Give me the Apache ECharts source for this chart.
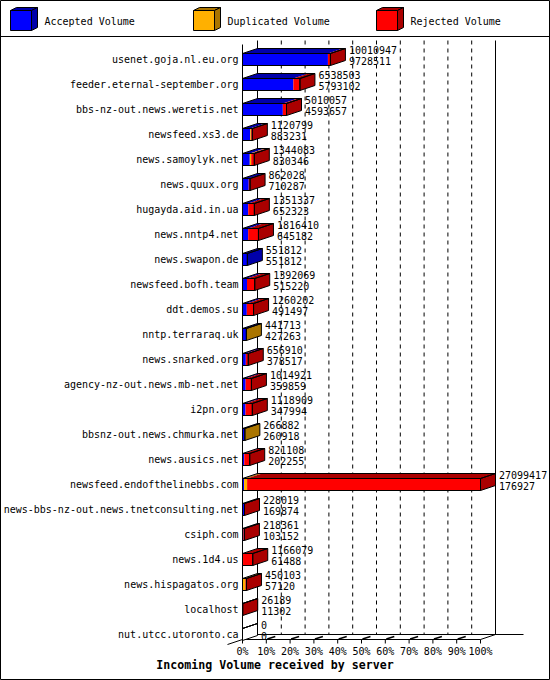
<!DOCTYPE html>
<html><head><meta charset="utf-8">
<script src="https://cdn.jsdelivr.net/npm/echarts@6/dist/echarts.min.js"></script>
<style>html,body{margin:0;padding:0;background:#fff}#c{width:550px;height:680px}</style>
</head><body><div id="c"></div>
<script>
const categories = [
  'usenet.goja.nl.eu.org','feeder.eternal-september.org','bbs-nz-out.news.weretis.net',
  'newsfeed.xs3.de','news.samoylyk.net','news.quux.org','hugayda.aid.in.ua','news.nntp4.net',
  'news.swapon.de','newsfeed.bofh.team','ddt.demos.su','nntp.terraraq.uk','news.snarked.org',
  'agency-nz-out.news.mb-net.net','i2pn.org','bbsnz-out.news.chmurka.net','news.ausics.net',
  'newsfeed.endofthelinebbs.com','news-bbs-nz-out.news.tnetconsulting.net','csiph.com',
  'news.1d4.us','news.hispagatos.org','localhost','nut.utcc.utoronto.ca'
];
const totalVolume = [10010947,6538503,5010057,1120799,1344083,862028,1351337,1816410,551812,1392069,1260202,441713,656910,1014921,1118909,266882,821108,27099417,228019,218361,1166079,450103,26189,0];
const acceptedVolume = [9728511,5793102,4593657,883231,830346,710287,652323,645182,551812,515220,491497,427263,378517,359859,347994,260918,202255,176927,169874,103152,61488,57120,11302,0];
const duplicatedVolume = [0,0,0,110000,160000,0,0,0,0,0,0,14450,0,0,0,5964,0,350000,0,0,0,280000,0,0];
const rejectedVolume = [282436,745401,416400,127568,353737,151741,699014,1171228,0,876849,768705,0,278393,655062,770915,0,618853,26572490,58145,115209,1104591,112983,14887,0];
const percentTicks = [0,10,20,30,40,50,60,70,80,90,100];
const seriesNames = ['Accepted Volume','Duplicated Volume','Rejected Volume'];

const FONT = '"DejaVu Sans Mono", "Liberation Mono", monospace';
const FRONT = ['#0000ff','#ffb000','#ff0000'];
const SIDE = ['#0000aa','#aa7500','#aa0000'];
const DX = 15, DY = 5, HALF = 6;

const maxTotal = Math.max(...totalVolume);
const pct = v => v / maxTotal * 100;
const barData = categories.map((c, i) => [i, pct(acceptedVolume[i]), pct(duplicatedVolume[i]), pct(rejectedVolume[i])]);
const labelData = categories.map((c, i) => [i, pct(acceptedVolume[i] + duplicatedVolume[i] + rejectedVolume[i])]);
const frameData = percentTicks.map(v => [v, 0]);

function renderBar(params, api) {
  const i = api.value(0);
  const segs = [api.value(1), api.value(2), api.value(3)];
  const origin = api.coord([0, i]);
  const y = origin[1];
  const yt = y - HALF, yb = y + HALF;
  const children = [];
  let cum = 0, xs = origin[0], last = -1;
  for (let k = 0; k < 3; k++) {
    if (segs[k] <= 0) continue;
    cum += segs[k];
    const xe = api.coord([cum, i])[0];
    children.push({type: 'rect', shape: {x: xs, y: yt, width: xe - xs, height: yb - yt}, style: {fill: FRONT[k]}});
    children.push({type: 'polygon', shape: {points: [[xs, yt], [xe, yt], [xe + DX, yt - DY], [xs + DX, yt - DY]]}, style: {fill: SIDE[k]}});
    xs = xe; last = k;
  }
  const x0 = origin[0], xr = xs;
  const sideFill = last >= 0 ? SIDE[last] : '#ffffff';
  children.push({type: 'polygon', shape: {points: [[xr, yt], [xr + DX, yt - DY], [xr + DX, yb - DY], [xr, yb]]}, style: {fill: sideFill, stroke: '#000', lineWidth: 1}});
  children.push({type: 'rect', shape: {x: x0, y: yt, width: xr - x0, height: yb - yt}, style: {fill: 'none', stroke: '#000', lineWidth: 1}});
  children.push({type: 'polygon', shape: {points: [[x0, yt], [xr, yt], [xr + DX, yt - DY], [x0 + DX, yt - DY]]}, style: {fill: 'none', stroke: '#000', lineWidth: 1}});
  return {type: 'group', children};
}

function renderLabel(params, api) {
  const i = api.value(0);
  const p = api.coord([api.value(1), i]);
  const x = p[0] + DX + 3.5;
  return {type: 'group', children: [
    {type: 'text', style: {text: String(totalVolume[i]), x: x, y: p[1] - 9, fill: '#000', font: '10px ' + FONT, verticalAlign: 'middle', align: 'left'}},
    {type: 'text', style: {text: String(acceptedVolume[i]), x: x, y: p[1] + 2, fill: '#000', font: '10px ' + FONT, verticalAlign: 'middle', align: 'left'}}
  ]};
}

function renderFrame(params, api) {
  const v = api.value(0);
  const nLast = categories.length - 1;
  const pTop = api.coord([v, 0]);
  const pBot = api.coord([v, nLast]);
  const x = pTop[0];
  const yFrontTop = pTop[1] - 15, yBackTop = pTop[1] - 19;
  const yFront = pBot[1] + 5, yBack = yFront - DY;
  const ls = {stroke: '#000', lineWidth: 1};
  const ch = [];
  // front tick and floor tick
  ch.push({type: 'line', shape: {x1: x, y1: yFront, x2: x, y2: yFront + 4}, style: ls});
  if (v > 0 && v < 100) {
    ch.push({type: 'line', shape: {x1: x + 1, y1: yFront - 0.5, x2: x + 9, y2: yFront - 3}, style: {stroke: '#000', lineWidth: 1.6}});
    ch.push({type: 'line', shape: {x1: x + DX, y1: yBackTop, x2: x + DX, y2: yBack}, style: {stroke: '#000', lineWidth: 1, lineDash: [4, 4]}});
  }
  if (v === 0) {
    const x100 = api.coord([100, nLast])[0];
    ch.push({type: 'line', shape: {x1: x, y1: yFrontTop, x2: x, y2: yFront}, style: ls});
    ch.push({type: 'line', shape: {x1: x + DX, y1: yBackTop, x2: x + DX, y2: yBack}, style: ls});
    ch.push({type: 'line', shape: {x1: x - DX, y1: yFront + DY, x2: x + DX, y2: yBack}, style: ls});
    ch.push({type: 'line', shape: {x1: x, y1: yFront, x2: x100, y2: yFront}, style: ls});
    ch.push({type: 'line', shape: {x1: x + DX, y1: yBack, x2: x100 + DX + 28, y2: yBack}, style: ls});
  }
  if (v === 100) {
    ch.push({type: 'line', shape: {x1: x + DX, y1: yBackTop, x2: x + DX, y2: yBack}, style: ls});
    ch.push({type: 'line', shape: {x1: x, y1: yFront, x2: x + DX, y2: yBack}, style: ls});
  }
  return {type: 'group', children: ch};
}

const legendX = [10.5, 193.5, 376.5];
const graphics = [
  {type: 'rect', shape: {x: 0.5, y: 0.5, width: 549, height: 679}, style: {fill: 'none', stroke: '#000', lineWidth: 1}, z: 10},
  {type: 'line', shape: {x1: 0, y1: 36.5, x2: 550, y2: 36.5}, style: {stroke: '#000', lineWidth: 1}, z: 10}
];
seriesNames.forEach((name, k) => {
  const x0 = legendX[k], w = 21, h = 20, t = 10.5, dx = 6, dy = 3;
  graphics.push({type: 'polygon', shape: {points: [[x0, t], [x0 + w, t], [x0 + w + dx, t - dy], [x0 + dx, t - dy]]}, style: {fill: SIDE[k], stroke: '#000', lineWidth: 1}, z: 10});
  graphics.push({type: 'polygon', shape: {points: [[x0 + w, t], [x0 + w + dx, t - dy], [x0 + w + dx, t + h - dy], [x0 + w, t + h]]}, style: {fill: SIDE[k], stroke: '#000', lineWidth: 1}, z: 10});
  graphics.push({type: 'rect', shape: {x: x0, y: t, width: w, height: h}, style: {fill: FRONT[k], stroke: '#000', lineWidth: 1}, z: 10});
  graphics.push({type: 'text', style: {text: name, x: x0 + 34, y: 21, fill: '#000', font: '10px ' + FONT, verticalAlign: 'middle'}, z: 10});
});

const chart = echarts.init(document.getElementById('c'), null, {renderer: 'svg'});
chart.setOption({
  animation: false,
  backgroundColor: '#fff',
  title: {text: 'Incoming Volume received by server', left: 'center', top: 659, padding: 0,
    textStyle: {fontFamily: FONT, fontWeight: 'bold', fontSize: 11.6, color: '#000'}},
  grid: {left: 242.5, top: 59.5, width: 238, height: 575, outerBoundsMode: 'none', containLabel: false},
  xAxis: {type: 'value', min: 0, max: 100, interval: 10,
    axisLine: {show: false}, axisTick: {show: false}, splitLine: {show: false},
    axisLabel: {formatter: '{value}%', fontFamily: FONT, fontSize: 10, color: '#000', margin: 12}},
  yAxis: {type: 'category', data: categories, inverse: true, boundaryGap: false,
    axisLine: {show: false}, axisTick: {show: false}, splitLine: {show: false},
    axisLabel: {fontFamily: FONT, fontSize: 10, color: '#000', margin: 4, interval: 0}},
  graphic: graphics,
  series: [
    {type: 'custom', name: 'labels', renderItem: renderLabel, data: labelData, encode: {x: 1, y: 0}, clip: false, z: 1, silent: true},
    {type: 'custom', name: 'frame', renderItem: renderFrame, data: frameData, encode: {x: 0, y: 1}, clip: false, z: 2, silent: true},
    {type: 'custom', name: 'volume', renderItem: renderBar, data: barData, encode: {x: 1, y: 0}, clip: false, z: 3, silent: true}
  ]
});
</script></body></html>
